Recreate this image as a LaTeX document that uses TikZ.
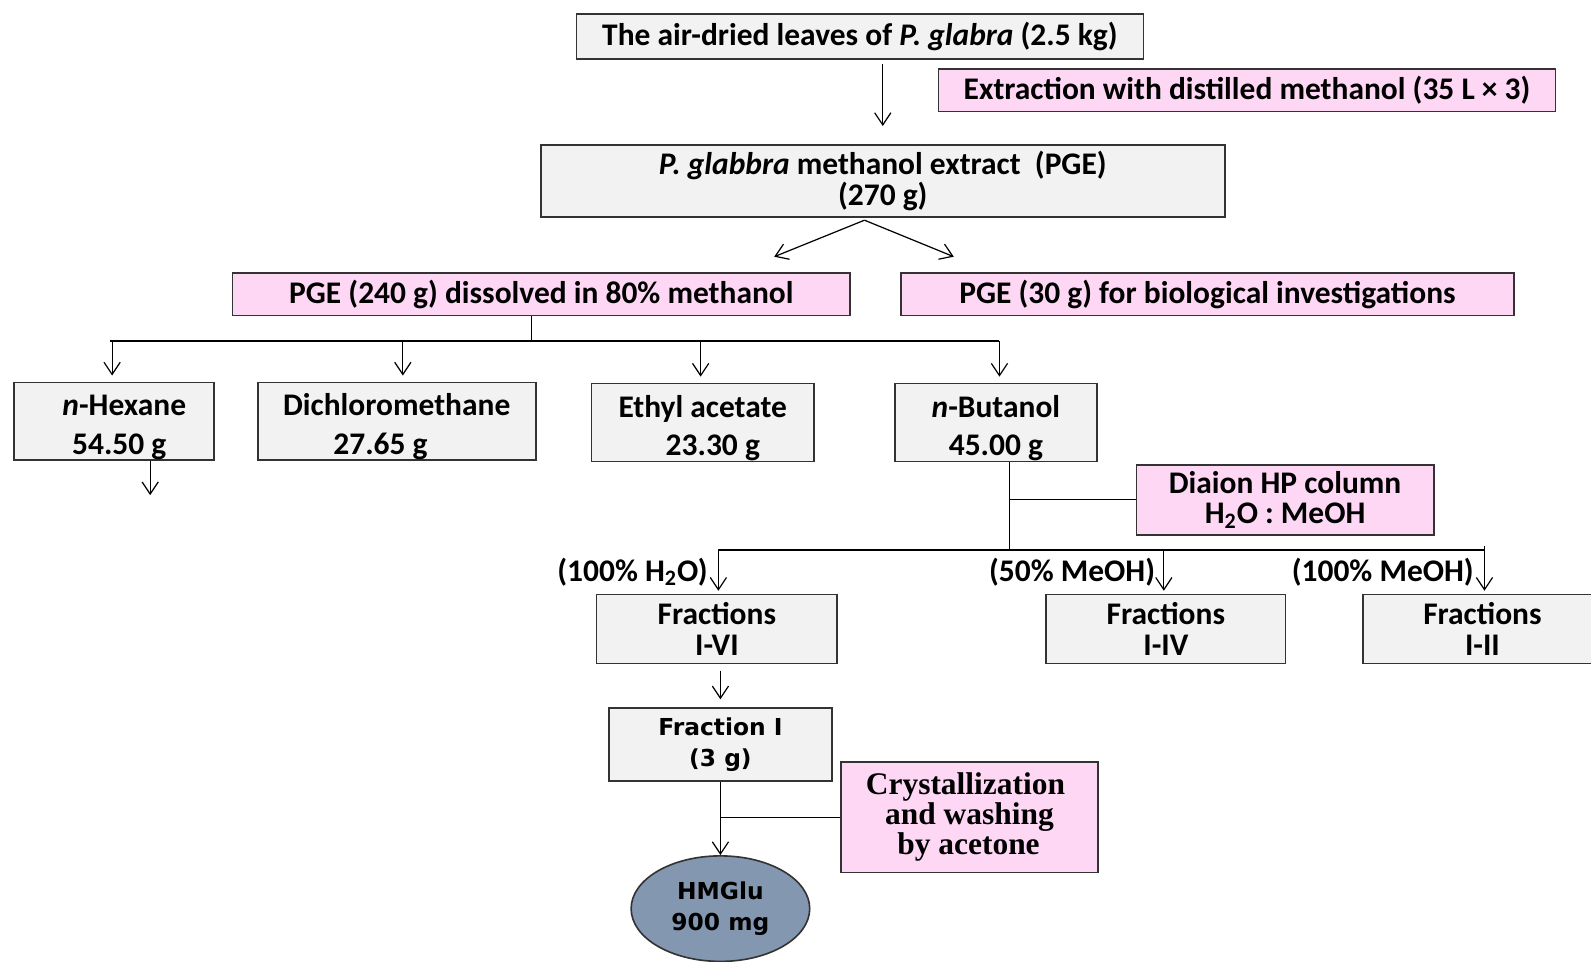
\documentclass[tikz,border=0pt]{standalone}
\usepackage{fontspec}
\setmainfont{Carlito}
\newfontfamily\verdfont{DejaVu Sans}
\newfontfamily\timesfont{Liberation Serif}
\usetikzlibrary{arrows.meta}
\usetikzlibrary{shapes.geometric}
\definecolor{boxgray}{HTML}{F2F2F2}
\definecolor{boxpink}{HTML}{FDD7F4}
\definecolor{prodblue}{HTML}{8497B0}
\definecolor{edgegray}{HTML}{333333}

\begin{document}
\begin{tikzpicture}[x=0.5pt, y=-0.5pt, line width=0.6pt,
  >={Straight Barb[length=6pt,width=8pt]},
  every node/.style={font=\bfseries\fontsize{15.5}{15}\selectfont, inner sep=0pt, align=center},
  graybox/.style={draw=edgegray, line width=0.8pt, fill=boxgray},
  pinkbox/.style={draw=edgegray, line width=0.8pt, fill=boxpink}]
  \useasboundingbox (0,0) rectangle (1568,948);

  % leaves and methanol extract
  \node [graybox, minimum width=279.5pt, minimum height=22pt] (leaves) at (847.5,36)
  {The air-dried leaves of \textit{P. glabra} (2.5 kg)};

  \node [pinkbox, minimum width=304pt, minimum height=21pt] (extract) at (1229,89)
  {Extraction with distilled methanol (35 L × 3)};

  \node [graybox, minimum width=337pt, minimum height=35.5pt] (pge) at (870,178.5)
  {\textit{P. glabbra} methanol extract~~(PGE)\\(270 g)};

  \draw [->, shorten <=2pt, shorten >=9pt] (pge.north |- leaves.south) -- (pge.north);

  % splitting the extract
  \coordinate (split) at (852,217);
  \coordinate (toleft) at (763,253);
  \coordinate (toright) at (940,253);
  \draw [->] (split) -- (toleft);
  \draw [->] (split) -- (toright);

  \node [pinkbox, minimum width=304.5pt, minimum height=21pt] (pgesol) at (533.5,290)
  {PGE (240 g) dissolved in 80\% methanol};

  \node [pinkbox, minimum width=302pt, minimum height=21pt] (pgebio) at (1190,290)
  {PGE (30 g) for biological investigations};

  % solvent partition
  \node [graybox, minimum width=98.5pt, minimum height=37pt, text height=35.5pt] (hexane) at (112.5,415)
  {\hspace*{10pt}\textit{n}-Hexane\\[4pt]\hspace*{5pt}54.50 g};
  \node [graybox, minimum width=137pt, minimum height=38pt, text height=35.5pt] (dcm) at (391,415)
  {Dichloromethane\\[4pt]\hspace*{-16pt}27.65 g};
  \node [graybox, minimum width=109.5pt, minimum height=38.5pt, text height=35.5pt] (etac) at (692.5,416.5)
  {Ethyl acetate\\[4pt]\hspace*{10pt}23.30 g};
  \node [graybox, minimum width=99.5pt, minimum height=38.5pt, text height=35.5pt] (butanol) at (981.5,416.5)
  {\textit{n}-Butanol\\[4pt]45.00 g};

  \coordinate (bus) at (524,336);
  \draw (bus |- pgesol.south) -- (bus);
  \draw ([xshift=-2pt]hexane.north |- bus) -- ([xshift=1.75pt]butanol.north |- bus);
  \draw [->, shorten >=3pt] ([xshift=-1pt]hexane.north |- bus) -- ([xshift=-1pt]hexane.north);
  \draw [->, shorten >=3pt] ([xshift=3pt]dcm.north |- bus) -- ([xshift=3pt]dcm.north);
  \draw [->, shorten >=3pt] ([xshift=-1pt]etac.north |- bus) -- ([xshift=-1pt]etac.north);
  \draw [->, shorten >=3pt] ([xshift=1.75pt]butanol.north |- bus) -- ([xshift=1.75pt]butanol.north);

  \coordinate (hexout) at (148,488);
  \draw [->] (hexout |- hexane.south) -- (hexout);

  % n-butanol on diaion
  \node [pinkbox, minimum width=146.5pt, minimum height=34.5pt] (diaion) at (1266.5,492.5)
  {Diaion HP column\\H\textsubscript{2}O : MeOH};

  \coordinate (fork) at (995,542);
  \draw (fork |- butanol.south) -- (fork);
  \draw (diaion.west -| fork) -- (diaion.west);

  \node [graybox, minimum width=118.5pt, minimum height=34pt] (fracsix) at (706.5,620)
  {Fractions\\I-VI};
  \node [graybox, minimum width=118pt, minimum height=34pt] (fracfour) at (1149,620)
  {Fractions\\I-IV};
  \node [graybox, minimum width=118pt, minimum height=34pt] (fractwo) at (1461,620)
  {Fractions\\I-II};

  \draw ([xshift=0.75pt]fracsix.north |- fork) -- ([xshift=1pt]fractwo.north |- fork);
  \draw [->, shorten >=1.5pt] ([xshift=0.75pt]fracsix.north |- fork) --
  node [left, inner sep=5pt] {(100\% H\textsubscript{2}O)} ([xshift=0.75pt]fracsix.north);
  \draw [->, shorten >=1.5pt] ([xshift=-1pt]fracfour.north |- fork) --
  node [left, inner sep=4pt] {(50\% MeOH)} ([xshift=-1pt]fracfour.north);
  \draw [->, shorten <=-2pt, shorten >=1.5pt] ([xshift=1pt]fractwo.north |- fork) --
  node [left, inner sep=5pt] {(100\% MeOH)} ([xshift=1pt]fractwo.north);

  % fraction I to the pure compound
  \node [graybox, minimum width=110pt, minimum height=36pt,
  font=\verdfont\bfseries\fontsize{11.5}{15}\selectfont] (fracone) at (710,734)
  {Fraction I\\(3 g)};

  \draw [->, shorten <=3pt, shorten >=4pt] (fracone.north |- fracsix.south) -- (fracone.north);

  \node [pinkbox, minimum width=126.5pt, minimum height=54.5pt,
  font=\timesfont\bfseries\fontsize{15.5}{14.75}\selectfont] (cryst) at (955.5,805.5)
  {Crystallization\hspace*{4pt}\\and washing\hspace*{4pt}\\\hspace*{3pt}by acetone\hspace*{4pt}};

  \node [ellipse, draw=edgegray, line width=0.8pt, fill=prodblue,
  minimum width=88pt, minimum height=52pt,
  font=\verdfont\bfseries\fontsize{11.5}{15}\selectfont] (hmglu) at (710,895.5)
  {HMGlu\\900 mg};

  \draw [->] (fracone.south) -- (hmglu.north);
  \draw (cryst.west) -- (cryst.west -| fracone.south);

\end{tikzpicture}
\end{document}
